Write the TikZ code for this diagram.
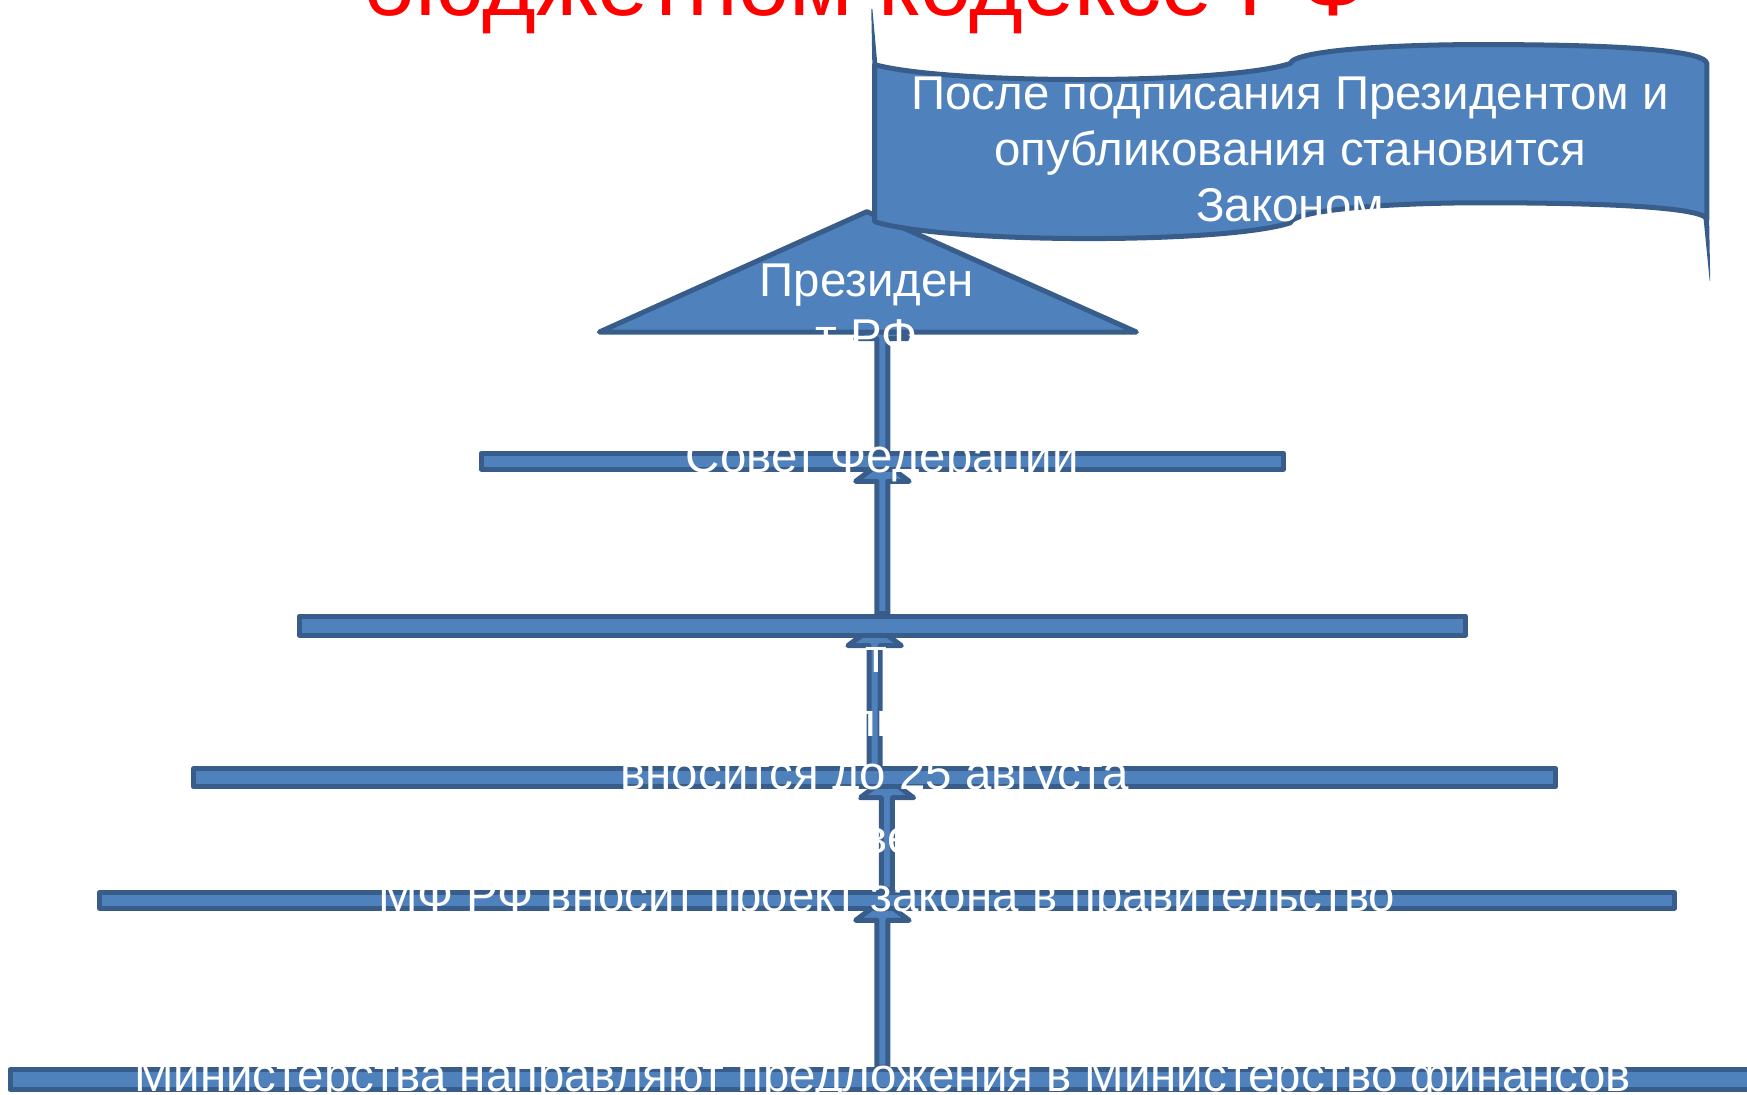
\documentclass[tikz,border=0pt]{standalone}
\usepackage{fontspec}
\setmainfont{Liberation Sans}
\usetikzlibrary{calc,backgrounds}

\definecolor{blokfill}{HTML}{4F81BD}
\definecolor{blokline}{HTML}{385D8A}

\tikzset{
  blok/.style={fill=blokfill, draw=blokline, line width=0.045cm, line join=round},
  planka/.style={blok, rectangle, inner sep=0pt, minimum width=#1},
  txt/.style={text=white, font=\fontsize{12.1}{14.2}\selectfont, inner sep=0pt, align=center},
  zagl/.style={text=red, font=\fontsize{23.5}{27}\selectfont, inner sep=0pt},
}

% block arrow from the top of #1 up to #2
\newcommand{\strelka}[2]{%
  \draw[blok] ($(#1.north)+(-5,0)$) -- ($(#1.north |- #2)+(-5,18)$)
    -- ($(#1.north |- #2)+(-24,18)$) -- (#1.north |- #2)
    -- ($(#1.north |- #2)+(24,18)$) -- ($(#1.north |- #2)+(5,18)$)
    -- ($(#1.north)+(5,0)$) -- cycle;}

\begin{document}
\begin{tikzpicture}[x=0.01cm, y=-0.01cm]
\useasboundingbox (0,0) rectangle (1568,982);
\clip (0,0) rectangle (1568,982);

% Заголовок (обрезан сверху)
\node[zagl, anchor=base] (zagolovok) at (777,14) {бюджетном кодексе РФ};

% Президент
\draw[blok] (778,190) -- (1020,298) -- (538,298) -- cycle;
\coordinate (prezN) at (792,286);

% Ленточка
\draw[blok] (785,58) .. controls (850,76) and (1100,76) .. (1158,57)
  .. controls (1162,45) and (1250,40) .. (1330,40)
  .. controls (1440,40) and (1530,44) .. (1532,57)
  -- (1532,197)
  .. controls (1530,186) and (1440,182) .. (1330,182)
  .. controls (1250,182) and (1162,188) .. (1158,200)
  .. controls (1100,219) and (850,219) .. (785,199) -- cycle;
\fill[blokline] (782,8) -- (783,8) -- (787.5,58) -- (783,60) -- cycle;
\fill[blokline] (1529,196) -- (1534,196) -- (1535,252) -- (1534.5,252) -- cycle;

% Планки
\node[planka=7.2cm, minimum height=0.14cm] (sovet) at (792,414) {};
\node[planka=10.46cm, minimum height=0.17cm] (duma) at (792,561.5) {};
\node[planka=12.22cm, minimum height=0.16cm] (vnos) at (785,698) {};
\node[planka=14.13cm, minimum height=0.14cm] (mf) at (796,808) {};
\node[planka=15.65cm, minimum height=0.18cm] (minist) at (792,969) {};

% Стрелки
\begin{scope}[on background layer]
\strelka{minist}{mf}
\strelka{mf}{vnos}
\strelka{vnos}{duma}
\strelka{duma}{sovet}
\strelka{sovet}{prezN}
\end{scope}

% Тексты
\node[txt] (prez) at (778,277) {Президен\\т РФ};
\node[txt] (zakon) at (1158,134) {После подписания Президентом и\\опубликования становится\\Законом};
\node[txt] (sovetT) at (sovet) {Совет Федерации};
\node[txt] (vnosT) at (vnos) {вносится до 25 августа};
\node[txt] (mfT) at (mf) {МФ РФ вносит проект закона в правительство};
\node[txt] (ministT) at (minist) {Министерства направляют предложения в Министерство финансов};
\node[txt] (frag1) at (787,592) {т};
\node[txt] (frag2) at (785,650) {ль};
\node[txt] (frag3) at (797,755) {ве};
\end{tikzpicture}
\end{document}
